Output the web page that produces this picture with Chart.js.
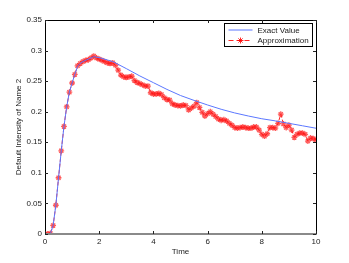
<!DOCTYPE html>
<html><head><meta charset="utf-8">
<script src="https://cdn.jsdelivr.net/npm/chart.js@4"></script>
<style>html,body{margin:0;padding:0;background:#fff;}#c{display:block;}</style>
</head><body>
<canvas id="c" width="349" height="263"></canvas>
<script>
const approxTimes = [0,0.1,0.2,0.3,0.4,0.5,0.6,0.7,0.8,0.9,1.0,1.1,1.2,1.3,1.4,1.5,1.6,1.7,1.8,1.9,2.0,2.1,2.2,2.3,2.4,2.5,2.6,2.7,2.8,2.9,3.0,3.1,3.2,3.3,3.4,3.5,3.6,3.7,3.8,3.9,4.0,4.1,4.2,4.3,4.4,4.5,4.6,4.7,4.8,4.9,5.0,5.1,5.2,5.3,5.4,5.5,5.6,5.7,5.8,5.9,6.0,6.1,6.2,6.3,6.4,6.5,6.6,6.7,6.8,6.9,7.0,7.1,7.2,7.3,7.4,7.5,7.6,7.7,7.8,7.9,8.0,8.1,8.2,8.3,8.4,8.5,8.6,8.7,8.8,8.9,9.0,9.1,9.2,9.3,9.4,9.5,9.6,9.7,9.8,9.9,10.0];
const approxValues = [0,0,0.001,0.014,0.047,0.092,0.136,0.176,0.208,0.232,0.247,0.261,0.275,0.279,0.282,0.284,0.285,0.288,0.291,0.288,0.286,0.284,0.282,0.280,0.279,0.280,0.276,0.268,0.260,0.257,0.256,0.257,0.258,0.251,0.248,0.246,0.244,0.242,0.242,0.231,0.229,0.229,0.230,0.228,0.223,0.220,0.219,0.213,0.211,0.210,0.2095,0.211,0.210,0.203,0.206,0.209,0.215,0.207,0.199,0.193,0.197,0.200,0.196,0.192,0.188,0.186,0.187,0.185,0.181,0.178,0.174,0.173,0.174,0.175,0.174,0.173,0.173,0.175,0.175,0.170,0.163,0.160,0.164,0.174,0.174,0.173,0.181,0.196,0.180,0.174,0.178,0.170,0.158,0.163,0.165,0.165,0.163,0.152,0.157,0.156,0.154];
const exactTimes = [0,0.1,0.2,0.3,0.4,0.5,0.6,0.7,0.8,0.9,1.0,1.1,1.2,1.3,1.4,1.5,1.6,1.7,1.8,2.0,2.5,3.0,3.5,4.0,4.5,5.0,5.5,6.0,6.5,7.0,7.5,8.0,8.5,9.0,9.5,10.0];
const exactValues = [0,0,0.001,0.014,0.047,0.092,0.136,0.176,0.208,0.232,0.247,0.261,0.274,0.279,0.282,0.284,0.286,0.288,0.290,0.2885,0.282,0.2705,0.2585,0.2475,0.2365,0.2265,0.2185,0.211,0.204,0.198,0.193,0.1885,0.185,0.181,0.177,0.173];
const xTicks = [0,2,4,6,8,10];
const yTicks = [0,0.05,0.1,0.15,0.2,0.25,0.3,0.35];
const seriesNames = ['Exact Value','Approximation'];
const xTitle = 'Time';
const yTitle = 'Default Intensity of Name 2';

const FONT = 'Liberation Sans, Arial, Helvetica, sans-serif';
const BLUE = '#5b77ff';
const RED = 'rgba(255,0,0,0.85)';

const framePlugin = {
  id: 'frame',
  afterDraw(chart) {
    const ctx = chart.ctx, a = chart.chartArea;
    const xs = chart.scales.x, ys = chart.scales.y;
    ctx.save();
    ctx.strokeStyle = '#000'; ctx.lineWidth = 1;
    ctx.beginPath();
    ctx.moveTo(Math.round(a.left)+0.5, Math.round(a.bottom));
    ctx.lineTo(Math.round(a.left)+0.5, Math.round(a.top)+0.5);
    ctx.lineTo(Math.round(a.right)+0.5, Math.round(a.top)+0.5);
    ctx.lineTo(Math.round(a.right)+0.5, Math.round(a.bottom));
    ctx.stroke();
    ctx.strokeStyle = '#8a8a8a'; ctx.lineWidth = 2;
    ctx.beginPath();
    ctx.moveTo(a.left, Math.round(a.bottom));
    ctx.lineTo(a.right+1, Math.round(a.bottom));
    ctx.stroke();
    ctx.strokeStyle = '#222'; ctx.lineWidth = 1;
    ctx.beginPath();
    xTicks.forEach(v => {
      const px = Math.round(xs.getPixelForValue(v)) + 0.5;
      ctx.moveTo(px, a.bottom); ctx.lineTo(px, a.bottom - 3);
      ctx.moveTo(px, a.top); ctx.lineTo(px, a.top + 3);
    });
    yTicks.forEach(v => {
      const py = Math.round(ys.getPixelForValue(v)) + 0.5;
      ctx.moveTo(a.left, py); ctx.lineTo(a.left + 3, py);
      ctx.moveTo(a.right, py); ctx.lineTo(a.right - 3, py);
    });
    ctx.stroke();
    const lx = 224.5, ly = 23.5, lw = 88, lh = 23;
    ctx.fillStyle = '#fff';
    ctx.fillRect(lx, ly, lw, lh);
    ctx.strokeStyle = '#000'; ctx.lineWidth = 1;
    ctx.strokeRect(lx, ly, lw, lh);
    ctx.font = '8px ' + FONT;
    ctx.fillStyle = '#222';
    ctx.textBaseline = 'middle';
    ctx.textAlign = 'left';
    const r1 = ly + 6.5, r2 = ly + 17;
    ctx.strokeStyle = BLUE;
    ctx.beginPath(); ctx.moveTo(lx + 4, r1); ctx.lineTo(lx + 28, r1); ctx.stroke();
    ctx.strokeStyle = RED;
    ctx.setLineDash([5,3]);
    ctx.beginPath(); ctx.moveTo(lx + 4, r2); ctx.lineTo(lx + 28, r2); ctx.stroke();
    ctx.setLineDash([]);
    Chart.helpers.drawPoint(ctx, {pointStyle: 'star', radius: 3, borderWidth: 1}, lx + 16, r2);
    ctx.fillText(seriesNames[0], lx + 33, r1 + 0.5);
    ctx.fillText(seriesNames[1], lx + 33, r2 + 0.5);
    ctx.restore();
  }
};

new Chart(document.getElementById('c'), {
  type: 'line',
  data: {
    datasets: [
      {
        label: seriesNames[0],
        data: exactTimes.map((t, i) => ({x: t, y: exactValues[i]})),
        borderColor: BLUE, borderWidth: 1, pointRadius: 0, tension: 0
      },
      {
        label: seriesNames[1],
        data: approxTimes.map((t, i) => ({x: t, y: approxValues[i]})),
        borderColor: RED, borderWidth: 1, borderDash: [4,2],
        pointStyle: 'star', pointRadius: 2.9, pointBorderWidth: 1.3,
        pointBorderColor: 'rgba(255,20,20,0.7)', pointBackgroundColor: 'rgba(255,0,0,0.5)',
        tension: 0
      }
    ]
  },
  options: {
    responsive: false, animation: false, devicePixelRatio: 1,
    layout: {padding: {left: 0, right: 33, top: 20, bottom: 6}},
    plugins: {legend: {display: false}, tooltip: {enabled: false}},
    scales: {
      x: {
        type: 'linear', min: 0, max: 10,
        afterBuildTicks: s => { s.ticks = xTicks.map(v => ({value: v})); },
        afterFit: s => { s.height = 23; },
        grid: {display: false, drawTicks: false},
        border: {display: false},
        ticks: {padding: 3, color: '#222', font: {family: FONT, size: 8}, maxRotation: 0,
                callback: v => String(v)},
        title: {display: true, text: xTitle, color: '#222', font: {family: FONT, size: 8}, padding: {top: 0, bottom: 0}}
      },
      y: {
        min: 0, max: 0.35,
        afterBuildTicks: s => { s.ticks = yTicks.map(v => ({value: v})); },
        afterFit: s => { s.width = 45; },
        grid: {display: false, drawTicks: false},
        border: {display: false},
        ticks: {padding: 3, color: '#222', font: {family: FONT, size: 8},
                callback: v => String(Math.round(v * 100) / 100)},
        title: {display: true, text: yTitle, color: '#222', font: {family: FONT, size: 8}, padding: {top: 14, bottom: 0}}
      }
    }
  },
  plugins: [framePlugin]
});
</script>
</body></html>
